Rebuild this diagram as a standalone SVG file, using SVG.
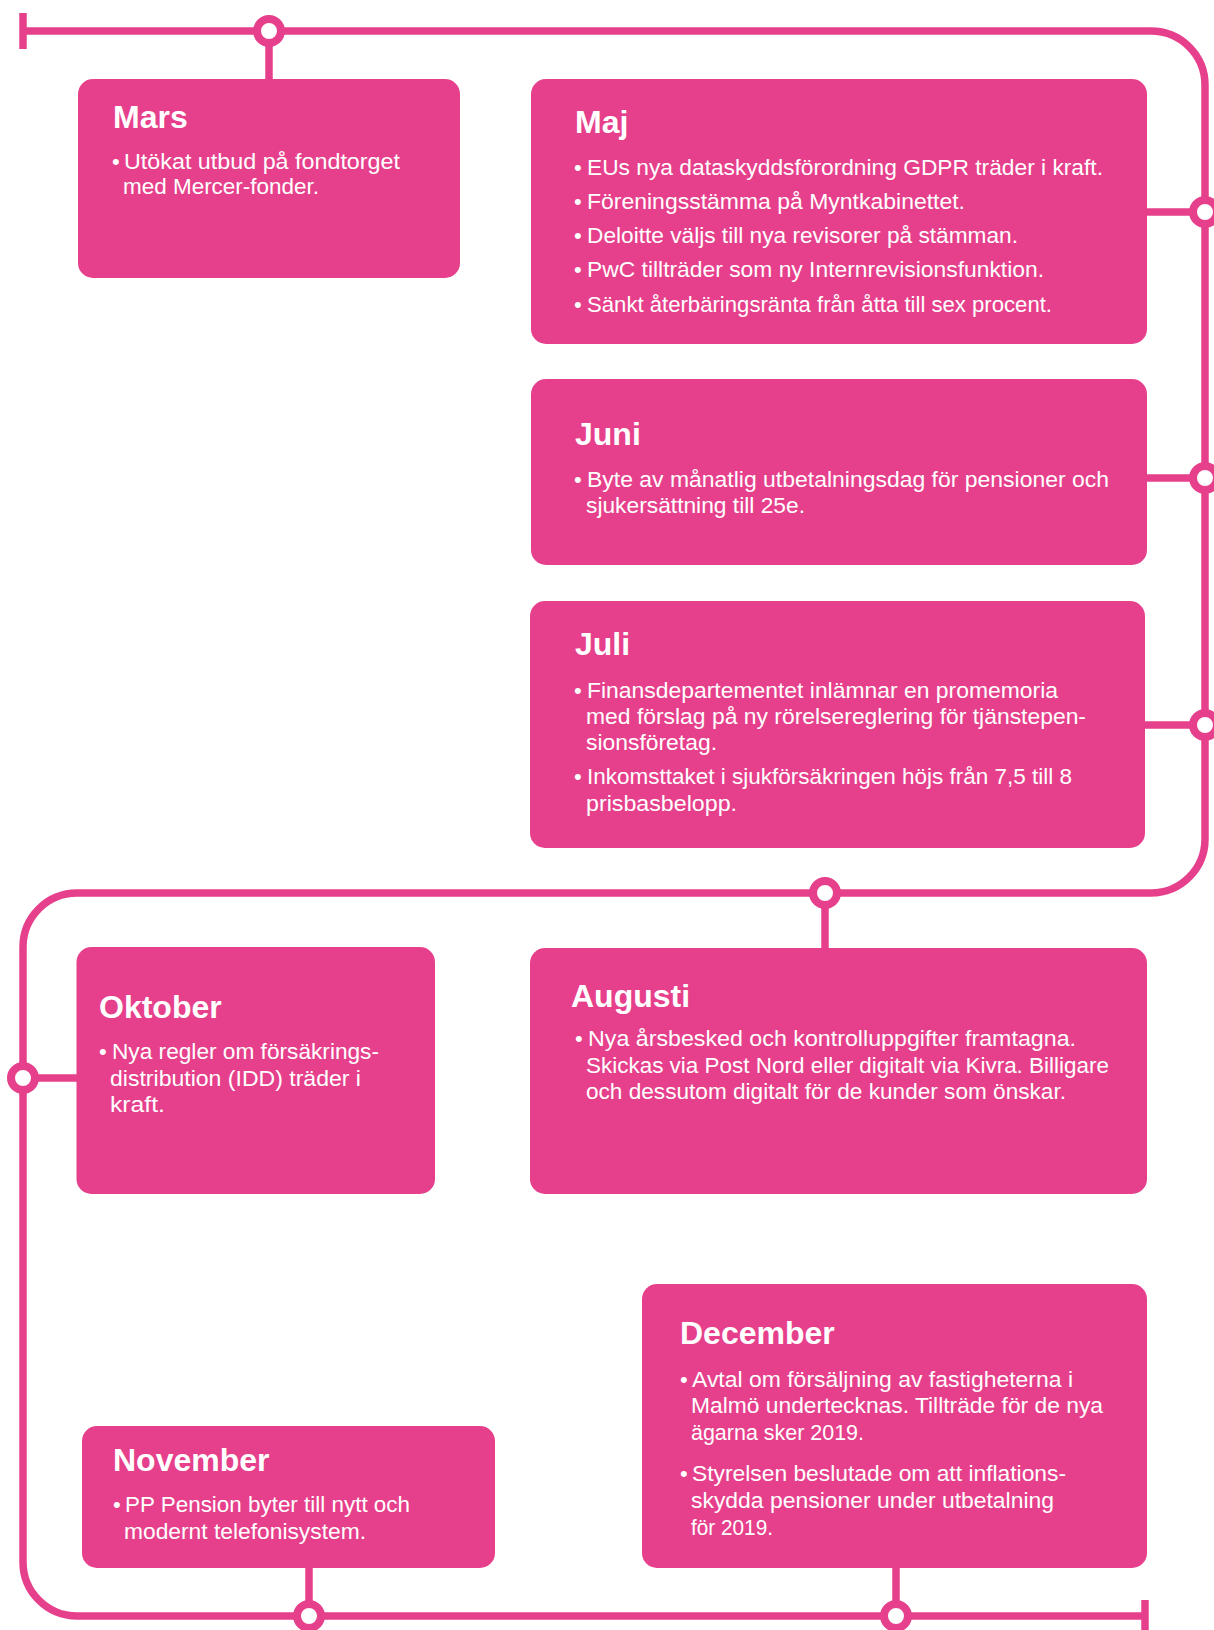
<svg xmlns="http://www.w3.org/2000/svg" width="1214" height="1630" viewBox="0 0 1214 1630">
<style>
.line{fill:none;stroke:#E6408C;stroke-width:7.5}
.dot{fill:#fff;stroke:#E6408C;stroke-width:8}
.box{fill:#E6408C}
.t{font-family:"Liberation Sans",Arial,sans-serif;font-weight:bold;font-size:32px;fill:#fff}
.b{font-family:"Liberation Sans",Arial,sans-serif;font-size:22px;fill:#fff}
</style>
<rect width="1214" height="1630" fill="#fff"/>
<g id="connectors">
<path class="line" d="M23 31 H1151 A54 54 0 0 1 1205 85 V839 A54 54 0 0 1 1151 893 H77 A54 54 0 0 0 23 947 V1562 A54 54 0 0 0 77 1616 H1145"/>
<path class="line" d="M23 13 V49 M1145 1600 V1632"/>
<path class="line" d="M269 31 V80 M1146 212 H1205 M1146 478 H1205 M1144 725 H1205 M825 893 V949 M23 1078 H78 M309 1566 V1616 M896 1566 V1616"/>
<circle class="dot" cx="269" cy="31" r="12"/>
<circle class="dot" cx="1205" cy="212" r="12"/>
<circle class="dot" cx="1205" cy="478" r="12"/>
<circle class="dot" cx="1205" cy="725" r="12"/>
<circle class="dot" cx="825" cy="893" r="12"/>
<circle class="dot" cx="23" cy="1078" r="12"/>
<circle class="dot" cx="309" cy="1616" r="12"/>
<circle class="dot" cx="896" cy="1616" r="12"/>
</g>
<g id="mars">
<rect class="box" x="78" y="79" width="382" height="199" rx="15"/>
<text class="t" x="113" y="128">Mars</text>
<text class="b" x="112" y="169">•</text>
<text class="b" x="124" y="169" textLength="276" lengthAdjust="spacingAndGlyphs">Utökat utbud på fondtorget</text>
<text class="b" x="123" y="194" textLength="196" lengthAdjust="spacingAndGlyphs">med Mercer-fonder.</text>
</g>
<g id="maj">
<rect class="box" x="531" y="79" width="616" height="265" rx="15"/>
<text class="t" x="575" y="133">Maj</text>
<text class="b" x="574" y="175">•</text>
<text class="b" x="587" y="175" textLength="516" lengthAdjust="spacingAndGlyphs">EUs nya dataskyddsförordning GDPR träder i kraft.</text>
<text class="b" x="574" y="209">•</text>
<text class="b" x="587" y="209" textLength="378" lengthAdjust="spacingAndGlyphs">Föreningsstämma på Myntkabinettet.</text>
<text class="b" x="574" y="243">•</text>
<text class="b" x="587" y="243" textLength="431" lengthAdjust="spacingAndGlyphs">Deloitte väljs till nya revisorer på stämman.</text>
<text class="b" x="574" y="277">•</text>
<text class="b" x="587" y="277" textLength="457" lengthAdjust="spacingAndGlyphs">PwC tillträder som ny Internrevisionsfunktion.</text>
<text class="b" x="574" y="312">•</text>
<text class="b" x="587" y="312" textLength="465" lengthAdjust="spacingAndGlyphs">Sänkt återbäringsränta från åtta till sex procent.</text>
</g>
<g id="juni">
<rect class="box" x="531" y="379" width="616" height="186" rx="15"/>
<text class="t" x="575" y="445">Juni</text>
<text class="b" x="574" y="487">•</text>
<text class="b" x="587" y="487" textLength="522" lengthAdjust="spacingAndGlyphs">Byte av månatlig utbetalningsdag för pensioner och</text>
<text class="b" x="586" y="513" textLength="219" lengthAdjust="spacingAndGlyphs">sjukersättning till 25e.</text>
</g>
<g id="juli">
<rect class="box" x="530" y="601" width="615" height="247" rx="15"/>
<text class="t" x="575" y="655">Juli</text>
<text class="b" x="574" y="698">•</text>
<text class="b" x="587" y="698" textLength="471" lengthAdjust="spacingAndGlyphs">Finansdepartementet inlämnar en promemoria</text>
<text class="b" x="586" y="724" textLength="500" lengthAdjust="spacingAndGlyphs">med förslag på ny rörelsereglering för tjänstepen-</text>
<text class="b" x="586" y="750" textLength="131" lengthAdjust="spacingAndGlyphs">sionsföretag.</text>
<text class="b" x="574" y="784">•</text>
<text class="b" x="587" y="784" textLength="485" lengthAdjust="spacingAndGlyphs">Inkomsttaket i sjukförsäkringen höjs från 7,5 till 8</text>
<text class="b" x="586" y="811" textLength="151" lengthAdjust="spacingAndGlyphs">prisbasbelopp.</text>
</g>
<g id="augusti">
<rect class="box" x="530" y="948" width="617" height="246" rx="15"/>
<text class="t" x="571" y="1007">Augusti</text>
<text class="b" x="575" y="1046">•</text>
<text class="b" x="588" y="1046" textLength="488" lengthAdjust="spacingAndGlyphs">Nya årsbesked och kontrolluppgifter framtagna.</text>
<text class="b" x="586" y="1073" textLength="523" lengthAdjust="spacingAndGlyphs">Skickas via Post Nord eller digitalt via Kivra. Billigare</text>
<text class="b" x="586" y="1099" textLength="480" lengthAdjust="spacingAndGlyphs">och dessutom digitalt för de kunder som önskar.</text>
</g>
<g id="oktober">
<rect class="box" x="76.5" y="947" width="358.5" height="247" rx="15"/>
<text class="t" x="99" y="1018">Oktober</text>
<text class="b" x="99" y="1059">•</text>
<text class="b" x="112" y="1059" textLength="267" lengthAdjust="spacingAndGlyphs">Nya regler om försäkrings-</text>
<text class="b" x="110" y="1086" textLength="251" lengthAdjust="spacingAndGlyphs">distribution (IDD) träder i</text>
<text class="b" x="110" y="1112" textLength="55" lengthAdjust="spacingAndGlyphs">kraft.</text>
</g>
<g id="november">
<rect class="box" x="82" y="1426" width="413" height="142" rx="15"/>
<text class="t" x="113" y="1471">November</text>
<text class="b" x="113" y="1512">•</text>
<text class="b" x="125" y="1512" textLength="285" lengthAdjust="spacingAndGlyphs">PP Pension byter till nytt och</text>
<text class="b" x="124" y="1539" textLength="242" lengthAdjust="spacingAndGlyphs">modernt telefonisystem.</text>
</g>
<g id="december">
<rect class="box" x="642" y="1284" width="505" height="284" rx="15"/>
<text class="t" x="680" y="1344">December</text>
<text class="b" x="680" y="1387">•</text>
<text class="b" x="692" y="1387" textLength="381" lengthAdjust="spacingAndGlyphs">Avtal om försäljning av fastigheterna i</text>
<text class="b" x="691" y="1413" textLength="412" lengthAdjust="spacingAndGlyphs">Malmö undertecknas. Tillträde för de nya</text>
<text class="b" x="691" y="1440" textLength="173" lengthAdjust="spacingAndGlyphs">ägarna sker 2019.</text>
<text class="b" x="680" y="1481">•</text>
<text class="b" x="692" y="1481" textLength="374" lengthAdjust="spacingAndGlyphs">Styrelsen beslutade om att inflations-</text>
<text class="b" x="691" y="1508" textLength="363" lengthAdjust="spacingAndGlyphs">skydda pensioner under utbetalning</text>
<text class="b" x="691" y="1535" textLength="82" lengthAdjust="spacingAndGlyphs">för 2019.</text>
</g>
</svg>
